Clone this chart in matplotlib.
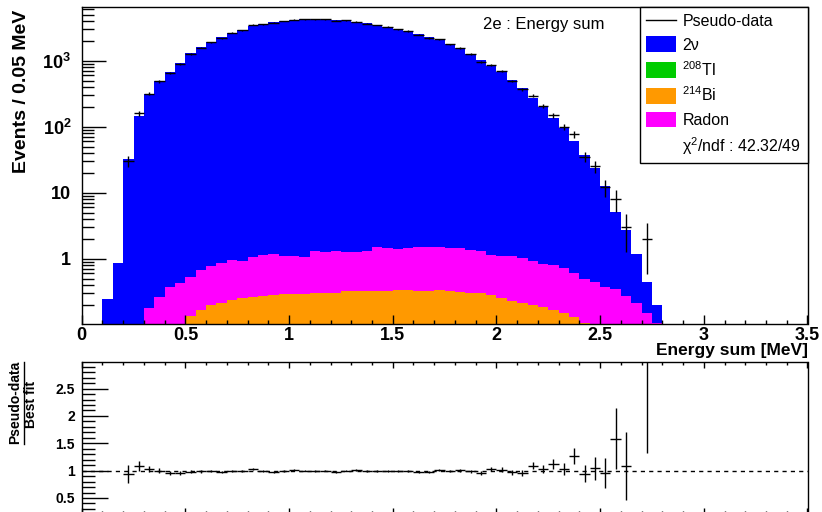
import numpy as np
import matplotlib
matplotlib.use('Agg')
import matplotlib.pyplot as plt
from matplotlib.lines import Line2D
from matplotlib.patches import Patch
from matplotlib.ticker import MultipleLocator, LogLocator, FixedLocator, FixedFormatter, NullFormatter

plt.rcParams['font.family'] = ['Liberation Sans', 'DejaVu Sans']
plt.rcParams['mathtext.fontset'] = 'custom'
plt.rcParams['mathtext.rm'] = 'Liberation Sans'
plt.rcParams['mathtext.bf'] = 'Liberation Sans:bold'
plt.rcParams['mathtext.it'] = 'Liberation Sans:italic'

# 0.05 MeV bins from 0.10 to 2.80 MeV (nothing outside)
edges = np.round(np.arange(0.10, 2.80001, 0.05), 2)

nu2 = [0.245, 0.87, 32, 147, 310, 488, 680, 933, 1294, 1595,
       1919, 2264, 2655, 2917, 3389, 3596, 3899, 4035, 4139, 4239,
       4289, 4239, 4139, 4099, 3854, 3689, 3474, 3274, 3019, 2816,
       2538, 2283, 2078, 1788, 1541, 1276, 1013, 839, 680, 506,
       383, 270, 199, 134, 96.3, 60.4, 36.5, 23.6, 12.1, 4.71,
       2.50, 0.96, 0.291, 0.096]
tl208 = [0, 0, 0, 0, 0, 0, 0, 0, 0.001, 0.001,
         0.002, 0.002, 0.002, 0.003, 0.003, 0.003, 0.004, 0.004, 0.004, 0.004,
         0.005, 0.005, 0.005, 0.005, 0.005, 0.006, 0.006, 0.006, 0.006, 0.006,
         0.006, 0.006, 0.006, 0.006, 0.005, 0.005, 0.005, 0.005, 0.005, 0.004,
         0.004, 0.004, 0.004, 0.003, 0.003, 0.003, 0.003, 0.002, 0.002, 0.002,
         0.002, 0.001, 0.001, 0.001]
bi214 = [0, 0, 0, 0, 0.05, 0.07, 0.085, 0.095, 0.135, 0.167,
         0.194, 0.213, 0.237, 0.254, 0.257, 0.270, 0.279, 0.285, 0.289, 0.292,
         0.292, 0.295, 0.300, 0.316, 0.316, 0.320, 0.322, 0.322, 0.335, 0.335,
         0.322, 0.322, 0.335, 0.322, 0.306, 0.300, 0.292, 0.272, 0.248, 0.223,
         0.206, 0.192, 0.179, 0.165, 0.145, 0.126, 0.104, 0.090, 0.075, 0.060,
         0.045, 0.030, 0.020, 0.010]
radon = [0, 0, 0, 0, 0.131, 0.193, 0.284, 0.333, 0.393, 0.500,
         0.590, 0.647, 0.729, 0.666, 0.793, 0.870, 0.901, 0.815, 0.821, 0.778,
         1.018, 0.965, 1.010, 0.944, 0.964, 0.990, 1.168, 1.128, 1.065, 1.115,
         1.178, 1.178, 1.165, 1.148, 1.144, 1.050, 1.028, 0.878, 0.862, 0.877,
         0.804, 0.728, 0.661, 0.635, 0.570, 0.474, 0.386, 0.350, 0.298, 0.280,
         0.221, 0.180, 0.129, 0.094]
pseudo_data = [0, 0, 30, 159, 318, 488, 652, 894, 1263, 1580,
               1901, 2197, 2656, 2889, 3509, 3561, 3783, 3996, 4181, 4240,
               4247, 4240, 4016, 4100, 3894, 3653, 3475, 3242, 3020, 2817,
               2489, 2216, 2101, 1772, 1557, 1264, 968, 865, 695, 492,
               369, 295, 206, 150, 100, 77, 35, 25, 12, 8,
               3, 0, 2, 0]

labels = ['Pseudo-data', '2\u03bd', r'$^{208}$Tl', r'$^{214}$Bi', 'Radon',
          '\u03c7$^{2}$/ndf : 42.32/49']
c_nu2, c_tl, c_bi, c_rn = '#0000ff', '#00cc00', '#ff9900', '#ff00ff'

tl208 = np.array(tl208); bi214 = np.array(bi214)
radon = np.array(radon); nu2 = np.array(nu2)
data = np.array(pseudo_data, dtype=float)
centers = 0.5 * (edges[1:] + edges[:-1])
halfw = 0.5 * np.diff(edges)

# stacked levels, drawn from the top one down like THStack
lev_tl = tl208
lev_bi = lev_tl + bi214
lev_rn = lev_bi + radon
lev_all = lev_rn + nu2
floor = 1e-4

W, H = 822, 512
fig = plt.figure(figsize=(W / 100, H / 100), dpi=100)
L, R = 81.7, 807.5
ax = fig.add_axes([L / W, 1 - 323.7 / H, (R - L) / W, (323.7 - 6.7) / H])
ax2 = fig.add_axes([L / W, 1 - 514.4 / H, (R - L) / W, (514.4 - 362.3) / H])

for lev, col in [(lev_all, c_nu2), (lev_rn, c_rn), (lev_bi, c_bi), (lev_tl, c_tl)]:
    ax.stairs(np.maximum(lev, floor), edges, baseline=floor, fill=True,
              color=col, linewidth=0)

m = data > 0
ax.errorbar(centers[m], data[m], xerr=halfw[m], yerr=np.sqrt(data[m]),
            fmt='none', ecolor='k', elinewidth=1, capsize=0)

ax.set_yscale('log')
ax.set_xlim(0, 3.5)
ax.set_ylim(0.1035, 6580)
ax.xaxis.set_major_locator(FixedLocator([0, 0.5, 1, 1.5, 2, 2.5, 3, 3.5]))
ax.xaxis.set_major_formatter(FixedFormatter(['0', '0.5', '1', '1.5', '2', '2.5', '3', '3.5']))
ax.xaxis.set_minor_locator(MultipleLocator(0.1))
ax.yaxis.set_major_locator(FixedLocator([1, 10, 100, 1000]))
ax.yaxis.set_major_formatter(FixedFormatter(['1', '10', r'$\mathbf{10^{2}}$', r'$\mathbf{10^{3}}$']))
ax.yaxis.set_minor_locator(LogLocator(base=10, subs=np.arange(2, 10), numticks=20))
ax.yaxis.set_minor_formatter(NullFormatter())
ax.tick_params(axis='x', which='major', direction='in', length=6.5, width=1, pad=2.5, labelsize=13)
ax.tick_params(axis='x', which='minor', direction='in', length=3.2, width=1)
ax.tick_params(axis='y', which='major', direction='in', length=17.5, width=1, pad=7.5, labelsize=13)
ax.tick_params(axis='y', which='minor', direction='in', length=8.4, width=1)
for t in ax.get_xticklabels() + ax.get_yticklabels():
    t.set_fontweight('bold')
for s in ax.spines.values():
    s.set_linewidth(1)

handles = [Line2D([], [], color='k', lw=1),
           Patch(facecolor=c_nu2, edgecolor='none'),
           Patch(facecolor=c_tl, edgecolor='none'),
           Patch(facecolor=c_bi, edgecolor='none'),
           Patch(facecolor=c_rn, edgecolor='none'),
           Line2D([], [], linestyle='none')]
leg = ax.legend(handles, labels, loc='upper right', bbox_to_anchor=(1, 1),
                borderaxespad=0, fancybox=False, framealpha=1, edgecolor='k',
                fontsize=11.5, handlelength=1.875, handleheight=1.125,
                handletextpad=0.4, labelspacing=0.45, borderpad=0.4)
leg.get_frame().set_linewidth(1)

fig.text(544 / W, 1 - 25 / H, '2e : Energy sum', ha='center', va='center', fontsize=12)
fig.text(22 / W, 1 - 10 / H, 'Events / 0.05 MeV', rotation=90, ha='center', va='top',
         fontsize=14, fontweight='bold')
fig.text(808 / W, 1 - 351 / H, 'Energy sum [MeV]', ha='right', va='center',
         fontsize=12.5, fontweight='bold')

# ratio panel
fit = lev_all
ratio = data / fit
rerr = np.sqrt(data) / fit
ax2.errorbar(centers[m], ratio[m], xerr=halfw[m], yerr=rerr[m],
             fmt='none', ecolor='k', elinewidth=1, capsize=0)
ax2.axhline(1.0, color='k', lw=1, ls=(0, (3, 3)))
ax2.set_xlim(0, 3.5)
ax2.set_ylim(0.2, 2.98)
ax2.xaxis.set_major_locator(MultipleLocator(0.5))
ax2.xaxis.set_minor_locator(MultipleLocator(0.1))
ax2.yaxis.set_major_locator(FixedLocator([0.5, 1, 1.5, 2, 2.5]))
ax2.yaxis.set_major_formatter(FixedFormatter(['0.5', '1', '1.5', '2', '2.5']))
ax2.yaxis.set_minor_locator(MultipleLocator(0.1))
ax2.tick_params(axis='x', which='major', direction='in', length=4, width=1,
                top=True, labelbottom=False)
ax2.tick_params(axis='x', which='minor', direction='in', length=2, width=1, top=True)
ax2.tick_params(axis='y', which='major', direction='in', length=18.5, width=1, pad=4.8, labelsize=10)
ax2.tick_params(axis='y', which='minor', direction='in', length=9.5, width=1)
for t in ax2.get_yticklabels():
    t.set_fontweight('bold')
for s in ax2.spines.values():
    s.set_linewidth(1)

# fraction as the y title of the ratio panel
fig.text(15.5 / W, 1 - 402.5 / H, 'Pseudo-data', rotation=90, ha='center', va='center',
         fontsize=10, fontweight='bold')
fig.text(31 / W, 1 - 404 / H, 'Best fit', rotation=90, ha='center', va='center',
         fontsize=10, fontweight='bold')
fig.add_artist(Line2D([23.5 / W, 23.5 / W], [1 - 362 / H, 1 - 444 / H], color='k', lw=1))

fig.savefig('out.png', dpi=100)
